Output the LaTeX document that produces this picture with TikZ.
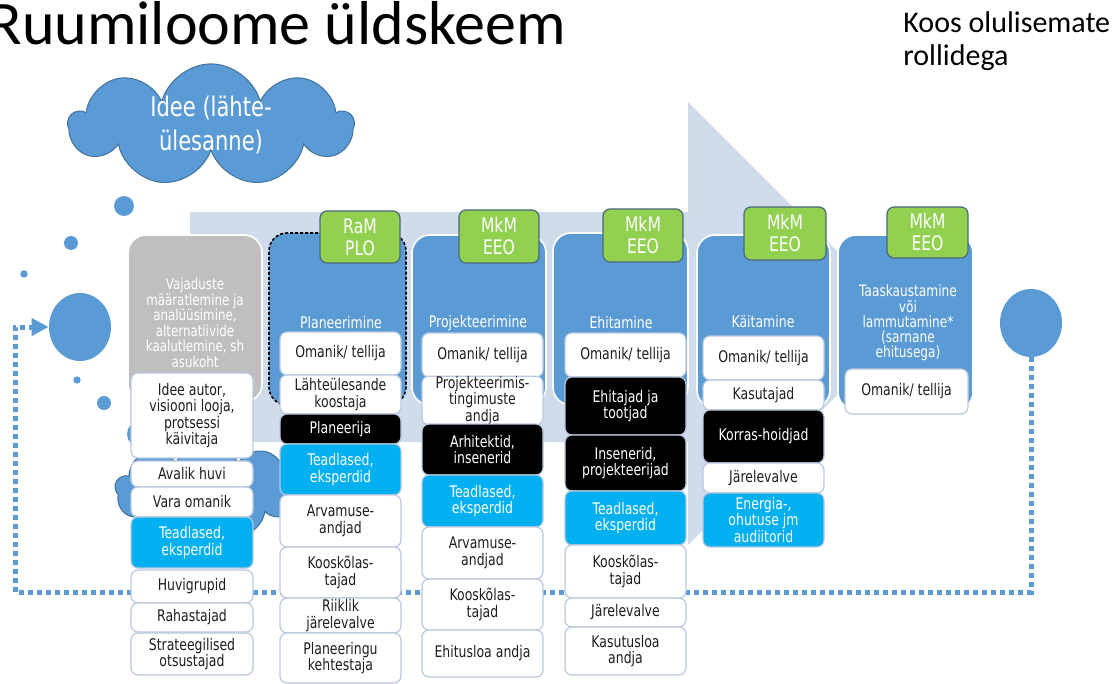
\documentclass[tikz,border=0pt]{standalone}
\usepackage{fontspec}
\setmainfont{DejaVu Sans}[FakeStretch=0.78]
\newfontfamily\headfont{Carlito}
\usepackage{tikz}
\usetikzlibrary{positioning,calc,shapes.symbols,shapes.geometric,arrows.meta}
\definecolor{colblue}{RGB}{91,155,213}
\definecolor{cloudedge}{RGB}{65,113,156}
\definecolor{arrowbg}{RGB}{208,219,236}
\definecolor{colgray}{RGB}{191,191,191}
\definecolor{taggreen}{RGB}{146,208,80}
\definecolor{tagedge}{RGB}{75,105,125}
\definecolor{cyanbox}{RGB}{0,176,240}
\definecolor{boxedge}{RGB}{185,200,222}
\definecolor{textdark}{RGB}{30,30,30}

\begin{document}
\begin{tikzpicture}[x=0.5pt, y=-0.5pt,
    spot/.style n args={4}{at={({(#1+#3)/2},{(#2+#4)/2})},
        minimum width={(#3-#1)*0.5pt}, minimum height={(#4-#2)*0.5pt}},
    col/.style={draw=white, line width=0.8pt, fill=colblue, rounded corners=9pt, inner sep=0pt},
    tag/.style={draw=tagedge, line width=0.6pt, fill=taggreen, rounded corners=3.5pt, inner sep=0pt,
        text=white, align=center, font=\fontsize{10}{11}\selectfont},
    wbox/.style={draw=boxedge, line width=0.6pt, fill=white, rounded corners=3.5pt, inner sep=0pt,
        text=textdark, align=center, font=\fontsize{8}{8.3}\selectfont},
    kbox/.style={wbox, fill=black, text=white},
    cbox/.style={wbox, fill=cyanbox, text=white},
    phase/.style={text=white, align=center, inner sep=0pt, font=\fontsize{8}{8.3}\selectfont},
    bubble/.style={fill=colblue, ellipse, inner sep=0pt, minimum width=31pt, minimum height=34pt},
    puff/.style={cloud, cloud puffs=9, cloud ignores aspect, fill=colblue, draw=cloudedge,
        line width=0.5pt, inner sep=0pt, text=white, align=center},
    loopline/.style={draw=colblue, line width=2.5pt, dash pattern=on 2.5pt off 2pt,
        -{Triangle[width=8.5pt,length=8.5pt]}}]
    \useasboundingbox (0,0) rectangle (1119,684);
    \clip (0,0) rectangle (1119,684);

    % Title
    \node[anchor=base west, inner sep=0pt, font=\headfont\fontsize{31}{32}\selectfont] (title) at (-12,45) {Ruumiloome üldskeem};
    \node[anchor=north west, inner sep=0pt, align=left, font=\headfont\fontsize{15}{16.5}\selectfont] (sub) at (903,11) {Koos olulisemate\\rollidega};

    % Background arrow
    \fill[arrowbg] (190,212) -- (688,212) -- (688,102) -- (909,323) -- (688,545) -- (688,442) -- (190,442) -- cycle;

    % Loop back to the start
    \node[bubble] (start) at (80,327) {};
    \node[bubble] (finish) at (1031,323) {};
    \coordinate (corner) at (15,592);
    \draw[loopline] (finish.south) |- (corner) |- (start.west);

    % Bubbles
    \foreach \x/\y/\r in {124/206/10, 71/243/7, 24/274/3.7, 77/380/3.7, 104/403/7, 140/434/13}
      \fill[colblue] (\x,\y) circle[radius=\r];

    % Clouds
    \node[puff, minimum width=142pt, minimum height=55pt, font=\fontsize{13.5}{17}\selectfont] (idea) at (211,125) {Idee (lähte-\\ülesanne)};
    \node[puff, minimum width=92pt, minimum height=50pt] (idea2) at (207,490) {};

    % Needs
    \node[col, fill=colgray, spot={128}{235}{262}{402}] (c1) {};
    \node[phase, font=\fontsize{7.6}{7.75}\selectfont] (c1t) at (195,323) {Vajaduste\\määratlemine ja\\analüüsimine,\\alternatiivide\\kaalutlemine, sh\\asukoht};

    % Planning
    \node[col, draw=black, dash pattern=on 1.5pt off 1pt, spot={269}{233}{406}{405}] (c2) {};
    \node[tag, spot={320}{211}{400}{263}] (tag2) {RaM\\PLO};
    \node[phase] (c2t) at (341,323) {Planeerimine};

    % Design
    \node[col, spot={412}{235}{546}{405}] (c3) {};
    \node[tag, spot={459}{210}{539}{263}] (tag3) {MkM\\EEO};
    \node[phase] (c3t) at (478,323) {Projekteerimine};

    % Building
    \node[col, spot={553}{233}{688}{405}] (c4) {};
    \node[tag, spot={603}{209}{683}{262}] (tag4) {MkM\\EEO};
    \node[phase] (c4t) at (621,323) {Ehitamine};

    % Use
    \node[col, spot={697}{235}{830}{408}] (c5) {};
    \node[tag, spot={744}{207}{826}{260}] (tag5) {MkM\\EEO};
    \node[phase] (c5t) at (763,322) {Käitamine};

    % Reuse
    \node[col, spot={838}{235}{973}{410}] (c6) {};
    \node[tag, spot={887}{207}{968}{258}] (tag6) {MkM\\EEO};
    \node[phase, font=\fontsize{7.8}{7.6}\selectfont] (c6t) at (908,323) {Taaskaustamine\\või\\lammutamine*\\(sarnane\\ehitusega)};

    % Roles: needs
    \node[wbox, spot={131}{373}{253}{458}] (n1) {Idee autor,\\visiooni looja,\\protsessi\\käivitaja};
    \node[wbox, spot={131}{461}{253}{487}] (n2) {Avalik huvi};
    \node[wbox, spot={131}{487}{253}{517}] (n3) {Vara omanik};
    \node[cbox, spot={131}{517}{253}{568}] (n4) {Teadlased,\\eksperdid};
    \node[wbox, spot={131}{570}{253}{603}] (n5) {Huvigrupid};
    \node[wbox, spot={131}{603}{253}{632}] (n6) {Rahastajad};
    \node[wbox, spot={131}{633}{253}{675}] (n7) {Strateegilised\\otsustajad};

    % Roles: planning
    \node[wbox, spot={280}{332}{401}{375}] (pl1) {Omanik/ tellija};
    \node[wbox, spot={280}{375}{401}{414}] (pl2) {Lähteülesande\\koostaja};
    \node[kbox, spot={280}{414}{401}{444}] (pl3) {Planeerija};
    \node[cbox, spot={280}{444}{401}{495}] (pl4) {Teadlased,\\eksperdid};
    \node[wbox, spot={280}{495}{401}{547}] (pl5) {Arvamuse-\\andjad};
    \node[wbox, spot={280}{547}{401}{598}] (pl6) {Kooskõlas-\\tajad};
    \node[wbox, spot={280}{598}{401}{633}] (pl7) {Riiklik\\järelevalve};
    \node[wbox, spot={280}{633}{401}{683}] (pl8) {Planeeringu\\kehtestaja};

    % Roles: design
    \node[wbox, spot={422}{333}{543}{377}] (pr1) {Omanik/ tellija};
    \node[wbox, spot={422}{377}{543}{424}] (pr2) {Projekteerimis-\\tingimuste\\andja};
    \node[kbox, spot={422}{424}{543}{475}] (pr3) {Arhitektid,\\insenerid};
    \node[cbox, spot={422}{475}{543}{527}] (pr4) {Teadlased,\\eksperdid};
    \node[wbox, spot={422}{527}{543}{579}] (pr5) {Arvamuse-\\andjad};
    \node[wbox, spot={422}{579}{543}{630}] (pr6) {Kooskõlas-\\tajad};
    \node[wbox, spot={422}{630}{543}{677}] (pr7) {Ehitusloa andja};

    % Roles: building
    \node[wbox, spot={565}{333}{686}{377}] (eh1) {Omanik/ tellija};
    \node[kbox, spot={565}{377}{686}{435}] (eh2) {Ehitajad ja\\tootjad};
    \node[kbox, spot={565}{435}{686}{491}] (eh3) {Insenerid,\\projekteerijad};
    \node[cbox, spot={565}{491}{686}{545}] (eh4) {Teadlased,\\eksperdid};
    \node[wbox, spot={565}{545}{686}{598}] (eh5) {Kooskõlas-\\tajad};
    \node[wbox, spot={565}{598}{686}{627}] (eh6) {Järelevalve};
    \node[wbox, spot={565}{627}{686}{675}] (eh7) {Kasutusloa\\andja};

    % Roles: use
    \node[wbox, spot={703}{336}{824}{380}] (ka1) {Omanik/ tellija};
    \node[wbox, spot={703}{380}{824}{410}] (ka2) {Kasutajad};
    \node[kbox, spot={703}{410}{824}{463}] (ka3) {Korras-hoidjad};
    \node[wbox, spot={703}{463}{824}{493}] (ka4) {Järelevalve};
    \node[cbox, spot={703}{493}{824}{547}] (ka5) {Energia-,\\ohutuse jm\\audiitorid};

    % Roles: reuse
    \node[wbox, spot={845}{369}{968}{414}] (ta1) {Omanik/ tellija};
\end{tikzpicture}
\end{document}
